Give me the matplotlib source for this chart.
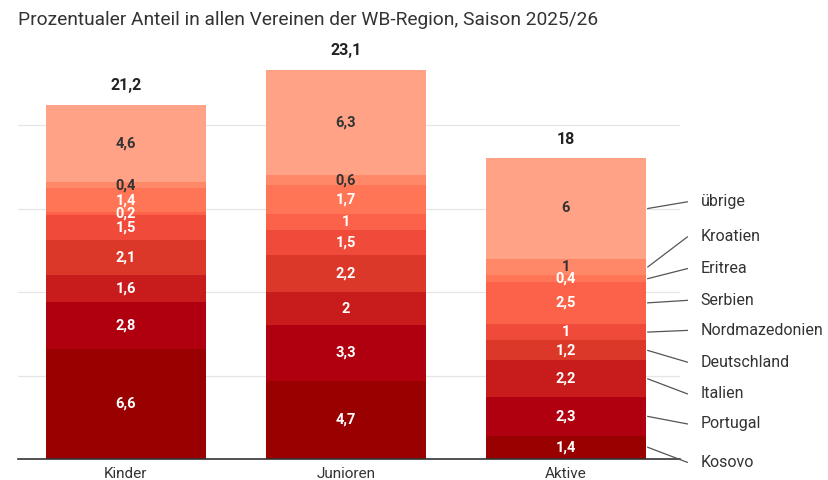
import matplotlib.pyplot as plt
import numpy as np

plt.rcParams["font.family"] = ["Roboto", "DejaVu Sans"]

TITLE = "Prozentualer Anteil in allen Vereinen der WB-Region, Saison 2025/26"
categories = ["Kinder", "Junioren", "Aktive"]
totals = [21.2, 23.1, 18]

# bottom to top
countries = ["Kosovo", "Portugal", "Italien", "Deutschland", "Nordmazedonien",
             "Serbien", "Eritrea", "Kroatien", "übrige"]
kinder = [6.6, 2.8, 1.6, 2.1, 1.5, 0.2, 1.4, 0.4, 4.6]
junioren = [4.7, 3.3, 2, 2.2, 1.5, 1, 1.7, 0.6, 6.3]
aktive = [1.4, 2.3, 2.2, 1.2, 1, 2.5, 0.4, 1, 6]

colors = ["#990000", "#b0000f", "#c81c1c", "#dc3829", "#f04b3a",
          "#fc6149", "#ff7556", "#ff8868", "#ffa286"]
dark_text = {"Kroatien", "übrige"}

# y position of the right-hand labels (data units)
label_y = [-0.2, 2.1, 3.9, 5.8, 7.7, 9.5, 11.4, 13.3, 15.4]


def main():
    fig = plt.figure(figsize=(8.29, 4.8), dpi=100)
    ax = fig.add_axes([18 / 829, 21 / 480, (680 - 18) / 829, 417.5 / 480])

    data = np.array([kinder, junioren, aktive]).T
    x = np.arange(len(categories))
    width = 0.727
    bottom = np.zeros(len(categories))
    for i, name in enumerate(countries):
        vals = data[i]
        ax.bar(x, vals, width, bottom=bottom, color=colors[i], linewidth=0, zorder=2)
        for xi, v, b in zip(x, vals, bottom):
            txt = f"{v:g}".replace(".", ",")
            col = "#333333" if name in dark_text else "white"
            ax.text(xi, b + v / 2, txt, ha="center", va="center", fontsize=10.5,
                    fontweight="bold", color=col, zorder=3)
        bottom += vals

    for xi, t in zip(x, totals):
        ax.text(xi, bottom[xi] + 0.7, f"{t:g}".replace(".", ","), ha="center",
                va="bottom", fontsize=11.5, fontweight="bold", color="#222222")

    # right-hand labels with leader lines from the Aktive bar
    bx = x[-1] + width / 2
    cum = np.cumsum(aktive) - np.array(aktive) / 2
    for name, c, ly in zip(countries, cum, label_y):
        ax.plot([bx + 0.01, bx + 0.19], [c, ly], color="#555555", lw=0.9,
                clip_on=False, zorder=4)
        ax.text(bx + 0.25, ly, name, ha="left", va="center", fontsize=11.5,
                color="#333333", clip_on=False)

    ax.set_xlim(-0.49, 2.52)
    ax.set_ylim(0, 25)
    ax.set_yticks([5, 10, 15, 20])
    ax.set_yticklabels([])
    ax.tick_params(axis="y", length=0)
    ax.grid(axis="y", color="#e6e6e6", lw=0.9, zorder=0)
    ax.set_xticks(x)
    ax.set_xticklabels(categories, fontsize=11, color="#333333")
    ax.tick_params(axis="x", length=0, pad=5.5)
    for s in ["top", "right", "left"]:
        ax.spines[s].set_visible(False)
    ax.spines["bottom"].set_color("#333333")
    ax.spines["bottom"].set_linewidth(1.2)

    fig.text(18 / 829, 1 - 20 / 480, TITLE, ha="left", va="center",
             fontsize=13.8, color="#333333")

    fig.savefig("out.png", dpi=100)


if __name__ == "__main__":
    main()
